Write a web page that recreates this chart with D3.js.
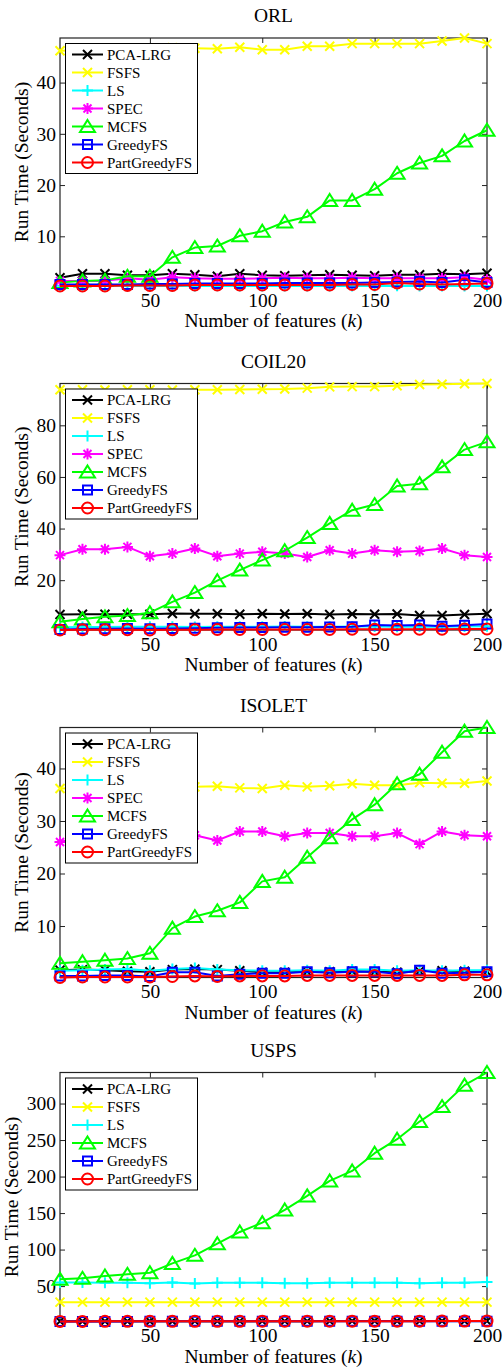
<!DOCTYPE html>
<html>
<head>
<meta charset="utf-8">
<script src="https://cdn.jsdelivr.net/npm/d3@7"></script>
<style>
    body { margin: 0; background: #fff; }
    text { font-family: "Liberation Serif", "Times New Roman", serif; fill: #000; }
</style>
</head>
<body>
<div id="chart"></div>
<script>
// Number of selected features (x axis)
var featureCounts = [10, 20, 30, 40, 50, 60, 70, 80, 90, 100, 110, 120, 130, 140, 150, 160, 170, 180, 190, 200];
var xTicks = [50, 100, 150, 200];

// ORL run times (seconds)
var orlPCA = [1.9, 2.7, 2.7, 2.4, 2.4, 2.7, 2.5, 2.2, 2.7, 2.4, 2.3, 2.4, 2.5, 2.4, 2.3, 2.5, 2.5, 2.7, 2.6, 2.8];
var orlFSFS = [46.2, 46.3, 46.5, 46.6, 46.7, 46.8, 46.7, 46.6, 46.9, 46.4, 46.4, 47.1, 47.1, 47.6, 47.6, 47.6, 47.6, 48.1, 48.7, 47.6];
var orlLS = [0.35, 0.3, 0.3, 0.3, 0.3, 0.3, 0.3, 0.35, 0.3, 0.3, 0.3, 0.3, 0.3, 0.3, 0.3, 0.35, 0.3, 0.3, 0.3, 0.3];
var orlSPEC = [1.3, 1.3, 1.3, 1.8, 1.5, 2.0, 1.8, 1.7, 1.7, 1.8, 1.9, 1.8, 1.8, 1.9, 1.8, 1.8, 1.8, 1.8, 2.0, 1.5];
var orlMCFS = [1.0, 1.3, 1.4, 2.2, 2.2, 5.9, 7.8, 8.1, 10.1, 11.0, 12.8, 13.8, 17.0, 17.0, 19.2, 22.3, 24.3, 25.7, 28.6, 30.7];
var orlGreedy = [0.6, 0.6, 0.6, 0.6, 0.7, 0.7, 0.8, 0.8, 0.8, 0.8, 0.9, 0.9, 0.9, 0.9, 1.0, 1.1, 1.2, 1.0, 1.5, 1.0];
var orlPartGreedy = [0.3, 0.3, 0.3, 0.4, 0.4, 0.4, 0.5, 0.5, 0.5, 0.5, 0.5, 0.5, 0.5, 0.6, 0.6, 0.9, 0.7, 0.6, 0.7, 0.8];
var orlTicks = [10, 20, 30, 40];

// COIL20 run times (seconds)
var coilPCA = [6.7, 6.8, 6.8, 6.8, 6.8, 7.1, 7.0, 7.0, 6.8, 7.0, 6.9, 7.0, 6.7, 6.9, 6.8, 6.9, 6.3, 6.3, 6.7, 7.0];
var coilFSFS = [93.8, 93.8, 93.7, 93.8, 93.8, 93.7, 93.8, 93.8, 93.9, 94.0, 94.1, 94.4, 94.9, 95.0, 95.0, 95.3, 95.8, 95.9, 96.1, 96.2];
var coilLS = [1.8, 1.9, 1.9, 2.0, 2.0, 2.0, 1.9, 2.0, 2.0, 2.0, 2.1, 2.0, 2.0, 2.1, 2.1, 2.0, 2.1, 2.0, 2.1, 2.2];
var coilSPEC = [29.7, 32.0, 32.0, 32.9, 29.3, 30.3, 32.3, 29.3, 30.3, 31.0, 30.3, 29.0, 31.6, 30.3, 31.6, 31.0, 31.3, 32.3, 29.7, 29.0];
var coilMCFS = [3.9, 5.0, 5.8, 6.3, 7.4, 11.6, 15.2, 19.8, 23.9, 27.8, 31.4, 36.5, 42.0, 47.1, 49.3, 56.5, 57.4, 63.9, 70.6, 73.6];
var coilGreedy = [0.9, 1.1, 1.2, 1.3, 1.2, 1.3, 1.4, 1.6, 1.7, 1.7, 1.8, 1.8, 1.9, 2.0, 2.6, 2.4, 2.6, 2.2, 2.5, 3.0];
var coilPartGreedy = [0.7, 0.8, 0.8, 0.8, 0.7, 0.8, 0.8, 0.9, 0.9, 0.9, 0.9, 0.9, 0.9, 1.0, 1.0, 1.0, 1.0, 1.0, 1.1, 1.1];
var coilTicks = [20, 40, 60, 80];

// ISOLET run times (seconds)
var isoPCA = [1.6, 1.7, 1.6, 1.4, 1.3, 1.7, 1.8, 1.7, 1.5, 1.2, 1.2, 1.3, 1.3, 1.4, 1.3, 1.2, 1.4, 1.5, 1.4, 1.3];
var isoFSFS = [36.2, 36.3, 36.4, 36.5, 36.5, 36.4, 36.5, 36.6, 36.3, 36.2, 36.8, 36.5, 36.7, 37.1, 36.8, 36.8, 37.3, 37.2, 37.2, 37.6];
var isoLS = [1.5, 1.6, 1.7, 1.8, 1.5, 1.8, 2.0, 1.7, 1.6, 1.5, 1.5, 1.6, 1.5, 1.7, 1.7, 1.5, 1.6, 1.5, 1.6, 1.6];
var isoSPEC = [26.0, 27.0, 27.5, 27.2, 27.8, 27.5, 27.3, 26.3, 28.0, 28.0, 27.1, 27.7, 27.7, 27.1, 27.1, 27.7, 25.6, 28.0, 27.3, 27.1];
var isoMCFS = [2.9, 3.2, 3.5, 3.8, 4.8, 9.6, 11.8, 12.9, 14.5, 18.5, 19.3, 23.1, 26.8, 30.3, 33.1, 37.1, 38.9, 43.1, 47.1, 47.8];
var isoGreedy = [0.5, 0.5, 0.6, 0.6, 0.4, 1.2, 1.2, 0.5, 0.8, 1.0, 1.0, 1.3, 1.1, 1.3, 1.3, 0.9, 1.6, 1.0, 1.1, 1.3];
var isoPartGreedy = [0.2, 0.3, 0.3, 0.3, 0.3, 0.4, 0.5, 0.4, 0.5, 0.5, 0.5, 0.6, 0.6, 0.6, 0.6, 0.6, 0.6, 0.6, 0.7, 0.7];
var isoTicks = [10, 20, 30, 40];

// USPS run times (seconds) - no SPEC here
var uspsPCA = [1.8, 1.8, 1.9, 1.9, 1.9, 1.9, 2.0, 2.0, 2.0, 2.0, 2.0, 2.0, 2.1, 2.1, 2.1, 2.1, 2.1, 2.1, 2.2, 2.2];
var uspsFSFS = [28.0, 28.0, 28.0, 28.0, 28.0, 28.0, 28.0, 28.0, 28.0, 28.0, 28.0, 28.0, 28.0, 28.0, 28.0, 28.0, 28.0, 28.0, 28.0, 28.0];
var uspsLS = [55.0, 55.0, 54.5, 54.5, 54.0, 55.0, 53.5, 54.5, 54.5, 54.5, 54.0, 54.0, 54.5, 54.5, 54.5, 54.5, 54.0, 54.5, 54.5, 55.5];
var uspsMCFS = [59.2, 60.6, 63.8, 66.1, 68.3, 81.1, 92.1, 108.1, 124.1, 136.9, 154.3, 173.5, 194.0, 207.7, 232.0, 251.2, 275.3, 295.9, 325.2, 342.5];
var uspsGreedy = [1.5, 1.6, 1.6, 1.6, 1.7, 1.7, 1.7, 1.7, 1.8, 1.8, 1.8, 1.8, 1.9, 1.9, 1.9, 1.9, 2.0, 2.0, 2.0, 2.0];
var uspsPartGreedy = [1.6, 1.6, 1.7, 1.7, 1.7, 1.8, 1.8, 1.8, 1.8, 1.9, 1.9, 1.9, 1.9, 2.0, 2.0, 2.0, 2.0, 2.1, 2.1, 2.1];
var uspsTicks = [50, 100, 150, 200, 250, 300];

// Line colour and marker of each method (MATLAB style)
var methodStyles = {
    "PCA-LRG": { color: "#000000", marker: "x" },
    "FSFS": { color: "#ffff00", marker: "x" },
    "LS": { color: "#00ffff", marker: "+" },
    "SPEC": { color: "#ff00ff", marker: "*" },
    "MCFS": { color: "#00ff00", marker: "^" },
    "GreedyFS": { color: "#0000ff", marker: "s" },
    "PartGreedyFS": { color: "#ff0000", marker: "o" }
};

// One entry per subplot
var panels = [
    { title: "ORL", top: 38, bottom: 286, ticks: orlTicks, labelX: 27.5,
      series: [["PCA-LRG", orlPCA], ["FSFS", orlFSFS], ["LS", orlLS], ["SPEC", orlSPEC], ["MCFS", orlMCFS], ["GreedyFS", orlGreedy], ["PartGreedyFS", orlPartGreedy]] },
    { title: "COIL20", top: 383.5, bottom: 630, ticks: coilTicks, labelX: 27.5,
      series: [["PCA-LRG", coilPCA], ["FSFS", coilFSFS], ["LS", coilLS], ["SPEC", coilSPEC], ["MCFS", coilMCFS], ["GreedyFS", coilGreedy], ["PartGreedyFS", coilPartGreedy]] },
    { title: "ISOLET", top: 727.5, bottom: 977.5, ticks: isoTicks, labelX: 27.5,
      series: [["PCA-LRG", isoPCA], ["FSFS", isoFSFS], ["LS", isoLS], ["SPEC", isoSPEC], ["MCFS", isoMCFS], ["GreedyFS", isoGreedy], ["PartGreedyFS", isoPartGreedy]] },
    { title: "USPS", top: 1072.5, bottom: 1321.5, ticks: uspsTicks, labelX: 17.5,
      series: [["PCA-LRG", uspsPCA], ["FSFS", uspsFSFS], ["LS", uspsLS], ["MCFS", uspsMCFS], ["GreedyFS", uspsGreedy], ["PartGreedyFS", uspsPartGreedy]] }
];

var axLeft = 60, axRight = 487;
var fontSize = 19.5;

var svg = d3.select("#chart")
            .append("svg")
            .attr("width", 503)
            .attr("height", 1367);

// Path of a MATLAB-like marker centred on 0,0
function markerPath(type) {
    if (type === "x") return "M-4.5,-4.5L4.5,4.5M-4.5,4.5L4.5,-4.5";
    if (type === "+") return "M0,-5.5L0,5.5M-5.5,0L5.5,0";
    if (type === "*") return "M0,-5.5L0,5.5M-5.5,0L5.5,0M-4,-4L4,4M-4,4L4,-4";
    if (type === "^") return "M0,-6.5L7.5,5.5L-7.5,5.5Z";
    if (type === "s") return "M-4.5,-4.5L4.5,-4.5L4.5,4.5L-4.5,4.5Z";
    return "M5.5,0A5.5,5.5 0 1,1 -5.5,0A5.5,5.5 0 1,1 5.5,0Z";
}

function styleAxis(g) {
    g.attr("font-family", "Liberation Serif, Times New Roman, serif")
     .attr("font-size", fontSize);
    g.select(".domain").remove();
    g.selectAll(".tick line").attr("stroke", "#222").attr("stroke-width", 1);
    g.selectAll(".tick text").attr("fill", "#000");
}

panels.forEach(function(p) {
    var g = svg.append("g");

    var xScale = d3.scaleLinear()
                   .domain([featureCounts[0], featureCounts[featureCounts.length - 1]])
                   .range([axLeft, axRight]);

    // axis tight: y limits follow the data
    var allValues = [];
    p.series.forEach(function(s) { allValues = allValues.concat(s[1]); });
    var yScale = d3.scaleLinear()
                   .domain(d3.extent(allValues))
                   .range([p.bottom, p.top]);

    // Ticks on all four sides, pointing inwards
    g.append("g")
     .attr("transform", "translate(" + axLeft + ",0)")
     .call(d3.axisLeft(yScale).tickValues(p.ticks).tickSizeInner(-5).tickSizeOuter(0).tickPadding(4))
     .call(styleAxis);
    g.append("g")
     .attr("transform", "translate(" + axRight + ",0)")
     .call(d3.axisRight(yScale).tickValues(p.ticks).tickSizeInner(-5).tickSizeOuter(0).tickFormat(""))
     .call(styleAxis);
    g.append("g")
     .attr("transform", "translate(0," + p.bottom + ")")
     .call(d3.axisBottom(xScale).tickValues(xTicks).tickSizeInner(-5).tickSizeOuter(0).tickPadding(7))
     .call(styleAxis);
    g.append("g")
     .attr("transform", "translate(0," + p.top + ")")
     .call(d3.axisTop(xScale).tickValues(xTicks).tickSizeInner(-5).tickSizeOuter(0).tickFormat(""))
     .call(styleAxis);

    // Box
    g.append("rect")
     .attr("x", axLeft)
     .attr("y", p.top)
     .attr("width", axRight - axLeft)
     .attr("height", p.bottom - p.top)
     .attr("fill", "none")
     .attr("stroke", "#222")
     .attr("stroke-width", 1.2);

    // Lines with markers
    var line = d3.line()
                 .x(function(d, i) { return xScale(featureCounts[i]); })
                 .y(function(d) { return yScale(d); });

    p.series.forEach(function(s) {
        var st = methodStyles[s[0]];
        g.append("path")
         .datum(s[1])
         .attr("d", line)
         .attr("fill", "none")
         .attr("stroke", st.color)
         .attr("stroke-width", 2)
         .attr("stroke-linejoin", "round");
        g.selectAll(null)
         .data(s[1])
         .enter().append("path")
         .attr("transform", function(d, i) { return "translate(" + xScale(featureCounts[i]) + "," + yScale(d) + ")"; })
         .attr("d", markerPath(st.marker))
         .attr("fill", "none")
         .attr("stroke", st.color)
         .attr("stroke-width", 2);
    });

    // Title
    g.append("text")
     .attr("x", (axLeft + axRight) / 2)
     .attr("y", p.top - 16)
     .attr("text-anchor", "middle")
     .style("font-size", fontSize + "px")
     .text(p.title);

    // Axis titles
    var xl = g.append("text")
              .attr("x", (axLeft + axRight) / 2)
              .attr("y", p.bottom + 41)
              .attr("text-anchor", "middle")
              .style("font-size", fontSize + "px");
    xl.append("tspan").text("Number of features (");
    xl.append("tspan").style("font-style", "italic").text("k");
    xl.append("tspan").text(")");

    g.append("text")
     .attr("transform", "translate(" + p.labelX + "," + ((p.top + p.bottom) / 2) + ") rotate(-90)")
     .attr("text-anchor", "middle")
     .style("font-size", fontSize + "px")
     .text("Run Time (Seconds)");

    // Legend
    var lgTop = p.top + 5.5;
    var lgHeight = 22 + (p.series.length - 1) * 18;
    var lg = g.append("g");
    lg.append("rect")
      .attr("x", 65.5)
      .attr("y", lgTop)
      .attr("width", 132)
      .attr("height", lgHeight)
      .attr("fill", "#fff")
      .attr("stroke", "#000")
      .attr("stroke-width", 1);
    p.series.forEach(function(s, i) {
        var st = methodStyles[s[0]];
        var y = lgTop + 11 + i * 18;
        lg.append("line")
          .attr("x1", 72).attr("x2", 103)
          .attr("y1", y).attr("y2", y)
          .attr("stroke", st.color)
          .attr("stroke-width", 2);
        lg.append("path")
          .attr("transform", "translate(87.5," + y + ")")
          .attr("d", markerPath(st.marker))
          .attr("fill", "none")
          .attr("stroke", st.color)
          .attr("stroke-width", 2);
        lg.append("text")
          .attr("x", 107)
          .attr("y", y)
          .attr("dy", "0.35em")
          .style("font-size", "15px")
          .text(s[0]);
    });
});
</script>
</body>
</html>
